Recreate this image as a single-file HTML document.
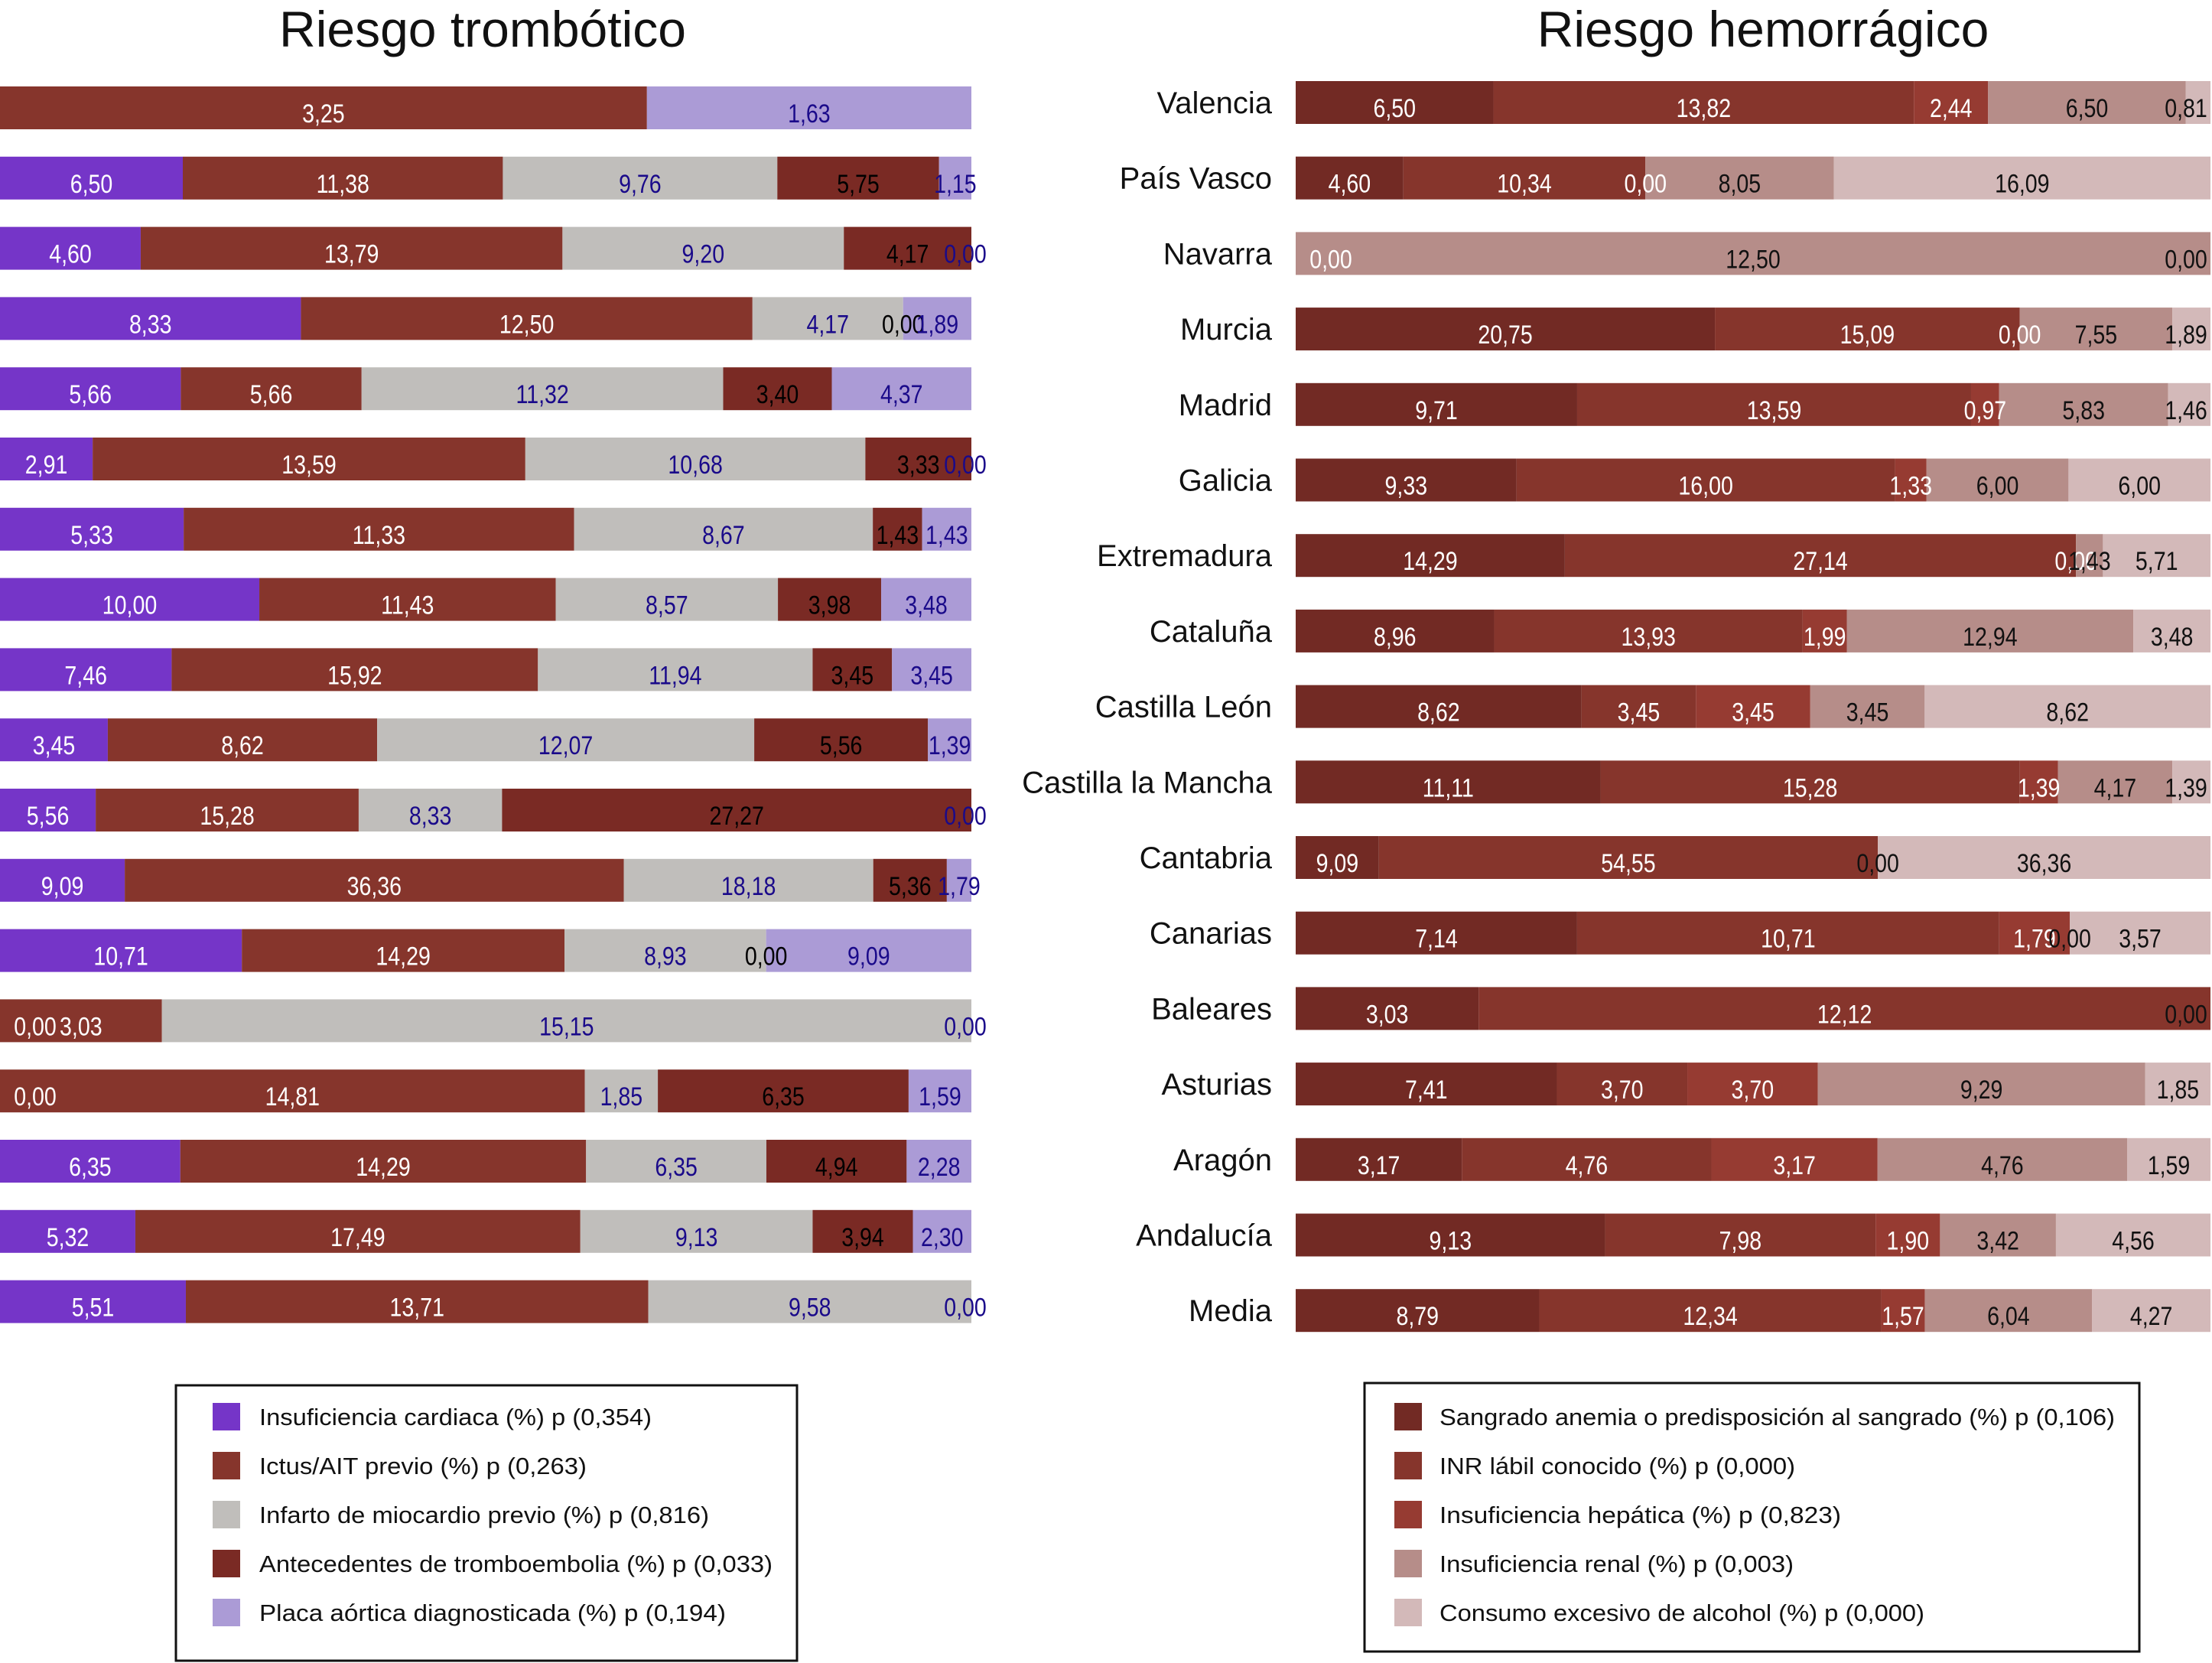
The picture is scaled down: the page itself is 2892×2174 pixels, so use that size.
<!DOCTYPE html>
<html><head><meta charset="utf-8"><style>
html,body{margin:0;padding:0;background:#fff}
svg{display:block;font-family:"Liberation Sans",sans-serif}
</style></head><body>
<svg id="c" width="2892" height="2174" viewBox="0 0 2892 2174">
<text x="631" y="61" font-size="66" text-anchor="middle" fill="#111">Riesgo trombótico</text>
<text x="2305" y="61" font-size="66" text-anchor="middle" fill="#111">Riesgo hemorrágico</text>
<g id="lbars"></g>
<g id="rbars"></g>
<rect x="230" y="1811" width="812" height="360" fill="none" stroke="#111" stroke-width="3"/>
<rect x="1784" y="1808" width="1013" height="351" fill="none" stroke="#111" stroke-width="3"/>
<g id="lleg"></g>
<g id="rleg"></g>
</svg>
<script>
// Left chart (Riesgo trombótico) series
const leftIC      = [null,6.50,4.60,8.33,5.66,2.91,5.33,10.00,7.46,3.45,5.56,9.09,10.71,0.00,0.00,6.35,5.32,5.51];
const leftIctus   = [3.25,11.38,13.79,12.50,5.66,13.59,11.33,11.43,15.92,8.62,15.28,36.36,14.29,3.03,14.81,14.29,17.49,13.71];
const leftInfarto = [null,9.76,9.20,4.17,11.32,10.68,8.67,8.57,11.94,12.07,8.33,18.18,8.93,15.15,1.85,6.35,9.13,9.58];
const leftAntec   = [null,5.75,4.17,0.00,3.40,3.33,1.43,3.98,3.45,5.56,27.27,5.36,0.00,null,6.35,4.94,3.94,null];
const leftPlaca   = [1.63,1.15,0.00,1.89,4.37,0.00,1.43,3.48,3.45,1.39,0.00,1.79,9.09,0.00,1.59,2.28,2.30,0.00];
const leftLegend  = ["Insuficiencia cardiaca (%) p (0,354)","Ictus/AIT previo (%) p (0,263)","Infarto de miocardio previo (%) p (0,816)","Antecedentes de tromboembolia (%) p (0,033)","Placa aórtica diagnosticada  (%) p (0,194)"];
// Right chart (Riesgo hemorrágico) series
const regions   = ["Valencia","País Vasco","Navarra","Murcia","Madrid","Galicia","Extremadura","Cataluña","Castilla León","Castilla la Mancha","Cantabria","Canarias","Baleares","Asturias","Aragón","Andalucía","Media"];
const rSangrado = [6.50,4.60,0.00,20.75,9.71,9.33,14.29,8.96,8.62,11.11,9.09,7.14,3.03,7.41,3.17,9.13,8.79];
const rINR      = [13.82,10.34,null,15.09,13.59,16.00,27.14,13.93,3.45,15.28,54.55,10.71,12.12,3.70,4.76,7.98,12.34];
const rHepatica = [2.44,0.00,null,0.00,0.97,1.33,0.00,1.99,3.45,1.39,null,1.79,null,3.70,3.17,1.90,1.57];
const rRenal    = [6.50,8.05,12.50,7.55,5.83,6.00,1.43,12.94,3.45,4.17,0.00,0.00,null,9.29,4.76,3.42,6.04];
const rAlcohol  = [0.81,16.09,0.00,1.89,1.46,6.00,5.71,3.48,8.62,1.39,36.36,3.57,0.00,1.85,1.59,4.56,4.27];
const rightLegend = ["Sangrado anemia o predisposición al sangrado (%) p (0,106)","INR lábil conocido (%) p (0,000)","Insuficiencia  hepática (%) p (0,823)","Insuficiencia renal (%) p (0,003)","Consumo excesivo de alcohol (%) p (0,000)"];

const NS="http://www.w3.org/2000/svg";
const fmt=v=>v.toFixed(2).replace('.',',');
function mk(tag,attrs,parent){const e=document.createElementNS(NS,tag);for(const k in attrs)e.setAttribute(k,attrs[k]);parent.appendChild(e);return e;}

function drawChart(g,series,colors,txtColors,x0,x1,yTop,pitch,h,prefix,maxX){
  const n=series[0].length;
  const gr=mk('g',{},g);
  const gt=mk('g',{},g);
  for(let i=0;i<n;i++){
    const y=yTop+i*pitch;
    let tot=0;series.forEach(s=>{if(s[i]!=null)tot+=s[i];});
    const sx=v=>x0+(v/tot)*(x1-x0);
    let acc=0;
    series.forEach((s,k)=>{
      const v=s[i];if(v==null)return;
      const a=sx(acc),b=sx(acc+v);acc+=v;
      if(v>0){
        const r=mk('rect',{x:a,y:y,width:b-a,height:h,fill:colors[k]},gr);
        
        
      }
      let cx=(a+b)/2;cx=Math.max(x0+46,Math.min(maxX,cx));
      const t=mk('text',{x:0,y:0,'font-size':34,'text-anchor':'middle',fill:txtColors[k],transform:'translate('+cx+','+(y+h-9)+') scale(0.84,1)'},gt);
      t.textContent=fmt(v);
      
      
    });
  }
}
const lColors=["#7535c8","#86352c","#c0bebb","#7a2a24","#ab9bd6"];
const lTxt=["#fff","#fff","#1a0a8a","#000","#1a0a8a"];
drawChart(document.getElementById('lbars'),[leftIC,leftIctus,leftInfarto,leftAntec,leftPlaca],lColors,lTxt,0,1270,113,91.8,56,'thrombotic',1262);
const rColors=["#722a24","#86352c","#963b32","#b68d89","#d3b9b9"];
const rTxt=["#fff","#fff","#fff","#111","#111"];
const rg=document.getElementById('rbars');
drawChart(rg,[rSangrado,rINR,rHepatica,rRenal,rAlcohol],rColors,rTxt,1694,2890,106,98.7,56,'hemorrhagic',2858);
regions.forEach((r,i)=>{
  const t=mk('text',{x:1663,y:106+i*98.7+42,'font-size':40,'text-anchor':'end',fill:'#111'},rg);
  t.textContent=r;
  
  
});
function legend(g,labels,colors,sx,tx,widths){
  labels.forEach((l,i)=>{
    const cy=1852+i*64;
    const s=mk('rect',{x:sx,y:cy-18,width:36,height:36,fill:colors[i]},g);
    
    
    const t=mk('text',{x:tx,y:cy+11,'font-size':31,fill:'#111',textLength:widths[i],lengthAdjust:'spacingAndGlyphs'},g);
    t.textContent=l;
    
    
  });
}
legend(document.getElementById('lleg'),leftLegend,lColors,278,339,[513,428,588,671,610]);
legend(document.getElementById('rleg'),rightLegend,rColors,1823,1882,[883,465,525,463,634]);
</script>
</body></html>
